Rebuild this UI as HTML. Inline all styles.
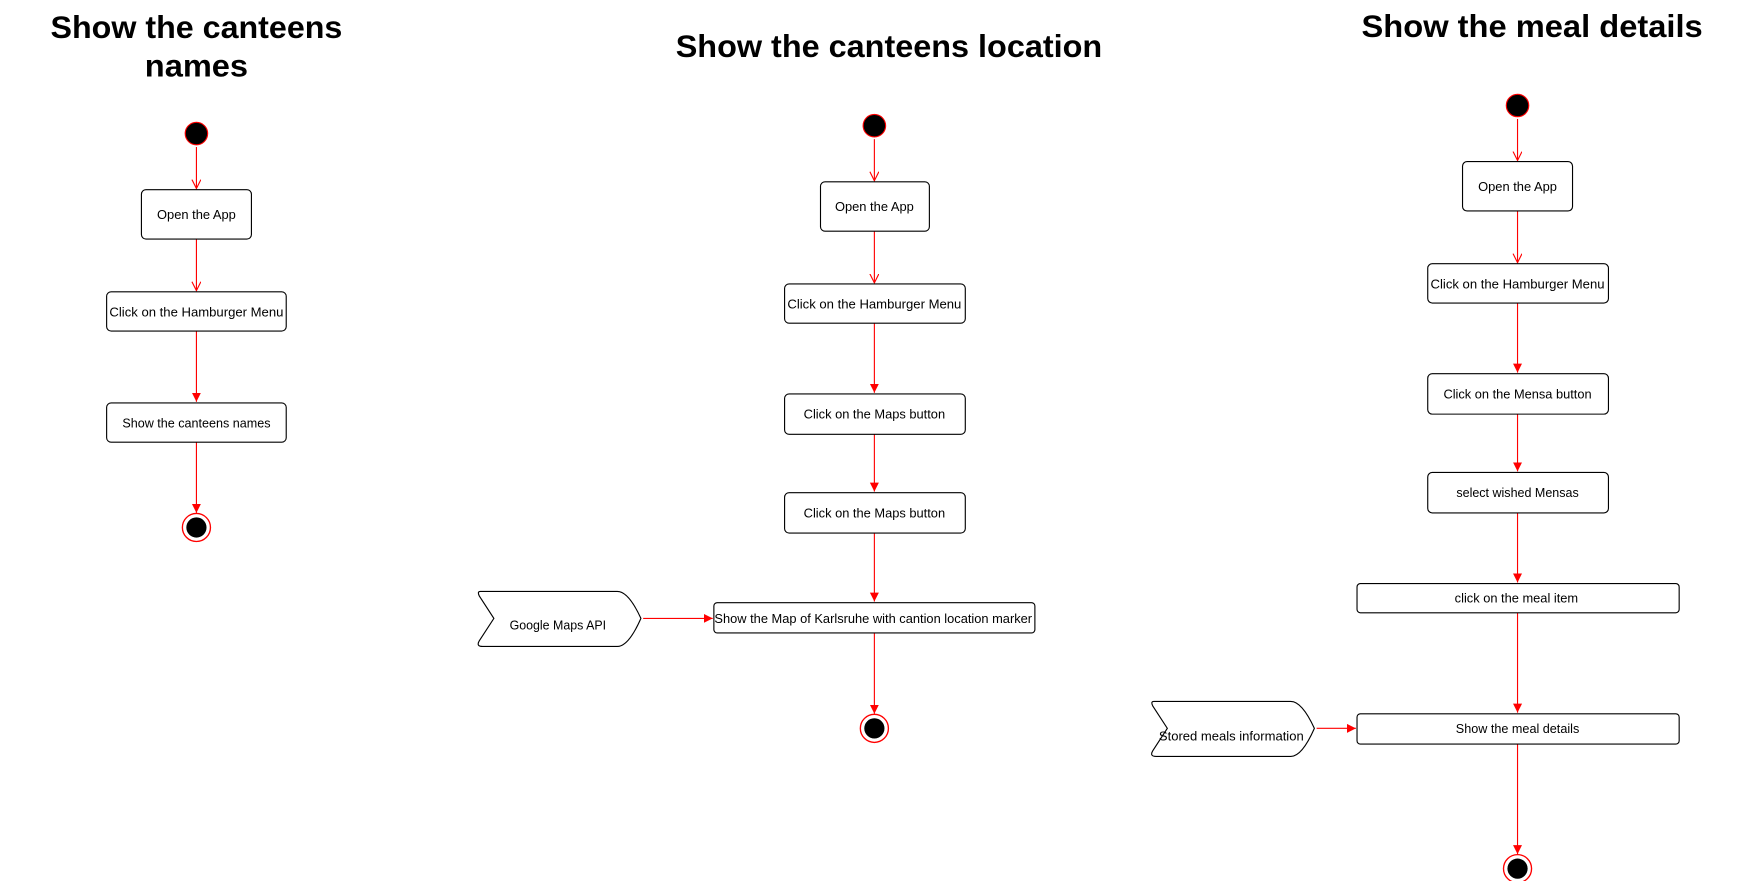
<!DOCTYPE html>
<html><head><meta charset="utf-8"><style>html,body{margin:0;padding:0;background:#fff}svg{display:block}</style></head>
<body>
<svg width="1751" height="881" viewBox="0 0 1560 785" preserveAspectRatio="none" xmlns="http://www.w3.org/2000/svg" font-family="'Liberation Sans','DejaVu Sans',sans-serif">
<defs>
<marker id="f" markerWidth="10" markerHeight="10" refX="8" refY="4" orient="auto" markerUnits="userSpaceOnUse"><path d="M0,0 L8,4 L0,8 Z" fill="red"/></marker>
<marker id="o" markerWidth="10" markerHeight="10" refX="8" refY="4" orient="auto" markerUnits="userSpaceOnUse"><path d="M0,0 L8,4 L0,8" fill="none" stroke="red" stroke-width="1"/></marker>
</defs>
<g font-weight="bold" font-size="28" text-anchor="middle" fill="#000">
<text x="175" y="34" textLength="260" lengthAdjust="spacingAndGlyphs">Show the canteens</text>
<text x="175" y="68" textLength="92" lengthAdjust="spacingAndGlyphs">names</text>
<text x="792" y="51" textLength="380" lengthAdjust="spacingAndGlyphs">Show the canteens location</text>
<text x="1365" y="33" textLength="304" lengthAdjust="spacingAndGlyphs">Show the meal details</text>
</g>
<g stroke="red" stroke-width="1" fill="none">
<line x1="175" y1="131" x2="175" y2="168" marker-end="url(#o)"/>
<line x1="175" y1="213" x2="175" y2="259" marker-end="url(#o)"/>
<line x1="175" y1="295" x2="175" y2="358" marker-end="url(#f)"/>
<line x1="175" y1="394" x2="175" y2="457" marker-end="url(#f)"/>
<line x1="779" y1="124" x2="779" y2="161" marker-end="url(#o)"/>
<line x1="779" y1="206" x2="779" y2="252" marker-end="url(#o)"/>
<line x1="779" y1="288" x2="779" y2="350" marker-end="url(#f)"/>
<line x1="779" y1="387" x2="779" y2="438" marker-end="url(#f)"/>
<line x1="779" y1="475" x2="779" y2="536" marker-end="url(#f)"/>
<line x1="779" y1="564" x2="779" y2="636" marker-end="url(#f)"/>
<line x1="573" y1="551" x2="635" y2="551" marker-end="url(#f)"/>
<line x1="1352" y1="106" x2="1352" y2="143" marker-end="url(#o)"/>
<line x1="1352" y1="188" x2="1352" y2="234" marker-end="url(#o)"/>
<line x1="1352" y1="270" x2="1352" y2="332" marker-end="url(#f)"/>
<line x1="1352" y1="369" x2="1352" y2="420" marker-end="url(#f)"/>
<line x1="1352" y1="457" x2="1352" y2="519" marker-end="url(#f)"/>
<line x1="1352" y1="546" x2="1352" y2="635" marker-end="url(#f)"/>
<line x1="1352" y1="663" x2="1352" y2="761" marker-end="url(#f)"/>
<line x1="1173" y1="649" x2="1208" y2="649" marker-end="url(#f)"/>
</g>
<g fill="#000" stroke="red" stroke-width="1">
<circle cx="175" cy="119" r="10"/><circle cx="779" cy="112" r="10"/><circle cx="1352" cy="94" r="10"/>
</g>
<g>
<circle cx="175" cy="470" r="12.5" fill="#fff" stroke="red" stroke-width="1.2"/><circle cx="175" cy="470" r="9" fill="#000"/>
<circle cx="779" cy="649" r="12.5" fill="#fff" stroke="red" stroke-width="1.2"/><circle cx="779" cy="649" r="9" fill="#000"/>
<circle cx="1352" cy="774" r="12.5" fill="#fff" stroke="red" stroke-width="1.2"/><circle cx="1352" cy="774" r="9" fill="#000"/>
</g>
<g fill="#fff" stroke="#000" stroke-width="1">
<rect x="126" y="169" width="98" height="44" rx="4"/>
<rect x="95" y="260" width="160" height="35" rx="4"/>
<rect x="95" y="359" width="160" height="35" rx="4"/>
<rect x="731" y="162" width="97" height="44" rx="4"/>
<rect x="699" y="253" width="161" height="35" rx="4"/>
<rect x="699" y="351" width="161" height="36" rx="4"/>
<rect x="699" y="439" width="161" height="36" rx="4"/>
<rect x="636" y="537" width="286" height="27" rx="3"/>
<rect x="1303" y="144" width="98" height="44" rx="4"/>
<rect x="1272" y="235" width="161" height="35" rx="4"/>
<rect x="1272" y="333" width="161" height="36" rx="4"/>
<rect x="1272" y="421" width="161" height="36" rx="4"/>
<rect x="1209" y="520" width="287" height="26" rx="3"/>
<rect x="1209" y="636" width="287" height="27" rx="3"/>
<path d="M428,527 L550,527 Q560,527 571,551 Q560,576 550,576 L430,576 Q424,576 427,571 L440,551 L427,531 Q425,527 428,527 Z"/>
<path d="M1028,625 L1150,625 Q1160,625 1171,649 Q1160,674 1150,674 L1030,674 Q1024,674 1027,669 L1040,649 L1027,629 Q1025,625 1028,625 Z"/>
</g>
<g font-size="11.5" text-anchor="middle" fill="#000">
<text x="175" y="195">Open the App</text>
<text x="175" y="282" textLength="155" lengthAdjust="spacingAndGlyphs">Click on the Hamburger  Menu</text>
<text x="175" y="381" textLength="132" lengthAdjust="spacingAndGlyphs">Show the canteens names</text>
<text x="779" y="188">Open the App</text>
<text x="779" y="275" textLength="155" lengthAdjust="spacingAndGlyphs">Click on the Hamburger  Menu</text>
<text x="779" y="373" textLength="126" lengthAdjust="spacingAndGlyphs">Click on the Maps button</text>
<text x="779" y="461" textLength="126" lengthAdjust="spacingAndGlyphs">Click on the Maps button</text>
<text x="778" y="555" textLength="283" lengthAdjust="spacingAndGlyphs">Show the Map of Karlsruhe with cantion location marker</text>
<text x="497" y="561" textLength="86" lengthAdjust="spacingAndGlyphs">Google Maps API</text>
<text x="1352" y="170">Open the App</text>
<text x="1352" y="257" textLength="155" lengthAdjust="spacingAndGlyphs">Click on the Hamburger  Menu</text>
<text x="1352" y="355" textLength="132" lengthAdjust="spacingAndGlyphs">Click on the Mensa button</text>
<text x="1352" y="443" textLength="109" lengthAdjust="spacingAndGlyphs">select wished Mensas</text>
<text x="1351" y="537" textLength="110" lengthAdjust="spacingAndGlyphs">click on the meal item</text>
<text x="1352" y="653" textLength="110" lengthAdjust="spacingAndGlyphs">Show the meal details</text>
<text x="1097" y="660" textLength="129" lengthAdjust="spacingAndGlyphs">Stored meals information</text>
</g>
</svg>
</body></html>
